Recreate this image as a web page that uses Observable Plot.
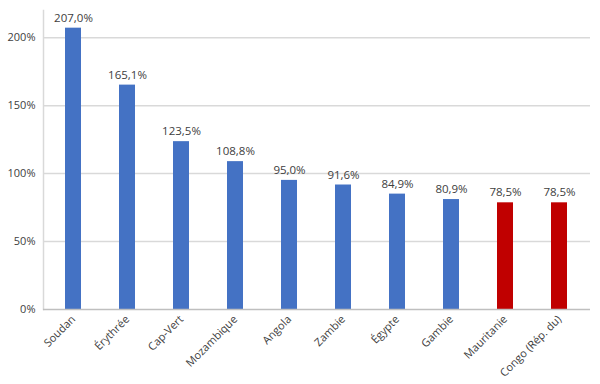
<!DOCTYPE html>
<html><head><meta charset="utf-8">
<script src="https://cdn.jsdelivr.net/npm/d3@7"></script>
<script src="https://cdn.jsdelivr.net/npm/@observablehq/plot@0.6"></script>
<style>body{margin:0;background:#fff}</style>
</head><body><div id="chart"></div>
<script>
const countries = ["Soudan","Érythrée","Cap-Vert","Mozambique","Angola","Zambie","Égypte","Gambie","Mauritanie","Congo (Rép. du)"];
const values = [207.0,165.1,123.5,108.8,95.0,91.6,84.9,80.9,78.5,78.5];
const groups = ["b","b","b","b","b","b","b","b","r","r"];
const yTicks = [0,50,100,150,200];
const data = countries.map((c,i)=>({country:c, value:values[i], group:groups[i]}));
const fmt = v => v.toFixed(1).replace(".", ",") + "%";
const chart = Plot.plot({
  width: 600, height: 384,
  marginLeft: 43, marginRight: 10, marginTop: 10, marginBottom: 75,
  style: {fontFamily: "'Open Sans', sans-serif", fontSize: "11px", color: "#404040"},
  x: {domain: countries, paddingInner: 0.7, paddingOuter: 0.35, label: null},
  y: {domain: [0, 220], label: null},
  color: {domain: ["b","r"], range: ["#4472C4","#C00000"]},
  marks: [
    Plot.ruleY(yTicks.slice(1), {stroke: "#d9d9d9", strokeWidth: 1.5}),
    Plot.frame({anchor: "left", stroke: "#d9d9d9", strokeWidth: 1.5}),
    Plot.axisY({ticks: yTicks, tickFormat: d => d + "%", tickSize: 0, tickPadding: 8, fontSize: 11}),
    Plot.axisX({tickRotate: -45, tickSize: 0, tickPadding: 8, fontSize: 11}),
    Plot.barY(data, {x: "country", y: "value", fill: "group"}),
    Plot.ruleY([0], {stroke: "#bfbfbf", strokeWidth: 1.5}),
    Plot.text(data, {x: "country", y: "value", text: d => fmt(d.value), dy: -10, fontSize: 11.5, fill: "#404040"})
  ]
});
document.getElementById("chart").append(chart);
</script></body></html>
